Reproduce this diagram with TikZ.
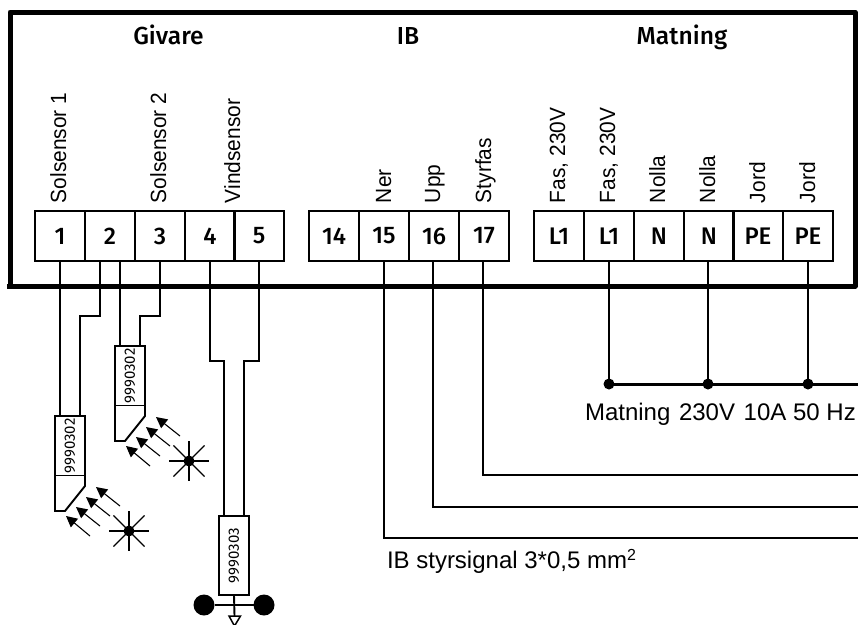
\documentclass[tikz,border=0pt]{standalone}
\usepackage{fontspec}
\setmainfont{Liberation Sans}
\newfontfamily\metafont{Fira Sans}
\newfontfamily\metamed{Fira Sans Medium}
\usetikzlibrary{calc,arrows.meta}
\newcommand{\vtxt}[1]{\scalebox{.95}[1]{#1}}
\tikzset{
 x=1pt,y=-1pt,
 every node/.style={inner sep=0pt,outer sep=0pt},
 terminal/.style={draw,line width=1.6pt,minimum width=50pt,minimum height=50pt,font=\fontsize{24}{26}\selectfont\metamed},
 head/.style={anchor=base,font=\fontsize{24.6}{26}\selectfont\metamed},
 vlabel/.style={rotate=90,anchor=base west,font=\fontsize{22}{24}\selectfont},
 hlabel/.style={anchor=base west,font=\fontsize{24}{26}\selectfont},
 wire/.style={line width=1.9pt,line join=miter},
 sensor/.style={draw,fill=white,line width=1.9pt,minimum width=30pt,font=\fontsize{15}{16}\selectfont\metafont},
 ray/.style={line width=1.1pt,-{Triangle[length=11pt,width=11pt]}},
 starline/.style={line width=1.1pt},
 dotn/.style={circle,fill=black,minimum size=11pt},
 ball/.style={circle,fill=black,minimum size=21pt},
 frame/.style={line width=5pt,line join=round},
 bus/.style={line width=3pt},
}
\begin{document}
\begin{tikzpicture}
\useasboundingbox (0,0) rectangle (858,624);
% terminals
\foreach \nm/\xx/\tx in {a/60/1,b/110/2,c/160/3,d/210/4,e/259/5,f/334/14,g/384/15,h/434/16,i/484/17,j/559/L1,k/609/L1,l/659/N,m/709/N,n/758/PE,o/808/PE}
  \node[terminal] (\nm) at (\xx,236) {\tx};
% wires
\node[sensor,minimum height=60pt,anchor=north west] (s1) at (55,416) {\rotatebox{90}{9990302}};
\node[sensor,minimum height=60pt,anchor=north west] (s2) at (115,346) {\rotatebox{90}{9990302}};
\node[sensor,minimum height=79pt,anchor=north west] (s3) at (219,516) {\rotatebox{90}{9990303}};
\coordinate (s1l) at (60,416); \coordinate (s1r) at (80,416);
\coordinate (s2l) at (120,346); \coordinate (s2r) at (140,346);
\coordinate (s3l) at (224,516); \coordinate (s3r) at (244,516);
\draw[wire] (a.south) -- (s1l);
\draw[wire] ([xshift=-10pt]b.south) -- ++(0,55) -| (s1r);
\draw[wire] ([xshift=10pt]b.south) -- (s2l);
\draw[wire] (c.south) -- ++(0,55) -| (s2r);
\draw[wire] (d.south) -- ++(0,100) -| (s3l);
\draw[wire] (e.south) -- ++(0,100) -| (s3r);
% sensor tips
\draw[wire,fill=white,line join=miter] (s1.south west) -- ++(0,35) -- ++(10,0) -- (85,486) -- (s1.south east);
\draw[wire,fill=white,line join=miter] (s2.south west) -- ++(0,35) -- ++(10,0) -- (145,416) -- (s2.south east);
% rays and stars
\foreach \ox/\oy/\st in {0/0/stb,-60/70/sta}{
 \begin{scope}[shift={(\ox,\oy)}]
  \foreach \tx/\ty/\hx/\hy in {180/436/156/417,170/446/146/427,160/456/136/437,150/466/126/446}{
   \coordinate (t) at (\tx,\ty); \coordinate (u) at (\hx,\hy);
   \draw[ray] (t) -- (u);
  }
  \node[dotn] (\st) at (189,461) {};
  \foreach \ang/\len in {0/20,90/20,180/20,270/20,45/22,135/22,225/22,315/22}
   \draw[starline] (\st.center) -- ++(\ang:\len);
 \end{scope}
}
% wind
\node[ball] (bl) at (204,605) {};
\node[ball] (br) at (264,605) {};
\draw[wire] (bl) -- (br);
\coordinate (vane) at (234.5,616);
\draw[wire] (s3.south) -- (vane);
\draw[line width=1.5pt,fill=white] (229,616) -- (240.5,616) -- (234.5,626) -- cycle;
% right side wires
\coordinate (r1) at (858,384);
\coordinate (r2) at (858,475);
\coordinate (r3) at (858,507);
\coordinate (r4) at (858,538);
\node[dotn] (d1) at (609,384) {};
\node[dotn] (d2) at (708,384) {};
\node[dotn] (d3) at (808,384) {};
\draw[wire] (k.south) -- (d1);
\draw[wire] (m.south) ++(-1,0) -- (d2);
\draw[wire] (o.south) -- (d3);
\draw[bus] (d1.center) -- (r1);
\draw[wire] (i.south) ++(-1,0) |- (r2);
\draw[wire] (h.south) ++(-1,0) |- (r3);
\draw[wire] (g.south) |- (r4);
% frame
\draw[frame] (855,12) -- (10,12) -- (10,286) -- (855,286) -- cycle;
\draw[frame] (10,286) -- (7,286);
% headings
\node[head] (h1) at (168.5,44) {Givare};
\node[head] (h2) at (408,44) {IB};
\node[head] (h3) at (682,44) {Matning};
% vertical labels
\node[vlabel] (v1) at (66,203) {\vtxt{Solsensor 1}};
\node[vlabel] (v2) at (166,203) {\vtxt{Solsensor 2}};
\node[vlabel] (v3) at (240,203) {\vtxt{Vindsensor}};
\node[vlabel] (v4) at (391,203) {\vtxt{Ner}};
\node[vlabel] (v5) at (440,203) {\vtxt{Upp}};
\node[vlabel] (v6) at (491,203) {\vtxt{Styrfas}};
\node[vlabel] (v7) at (565,203) {\vtxt{Fas, 230V}};
\node[vlabel] (v8) at (615,203) {\vtxt{Fas, 230V}};
\node[vlabel] (v9) at (665,203) {\vtxt{Nolla}};
\node[vlabel] (v10) at (715,203) {\vtxt{Nolla}};
\node[vlabel] (v11) at (765,203) {\vtxt{Jord}};
\node[vlabel] (v12) at (815,203) {\vtxt{Jord}};
% horizontal labels
\node[hlabel] (m1) at (585,420) {Matning\hspace{2pt} 230V\hspace{2pt} 10A 50 Hz};
\node[hlabel] (m2) at (387,568) {IB styrsignal 3*0,5 mm\raisebox{8pt}{\fontsize{16}{17}\selectfont 2}};
\end{tikzpicture}
\end{document}
